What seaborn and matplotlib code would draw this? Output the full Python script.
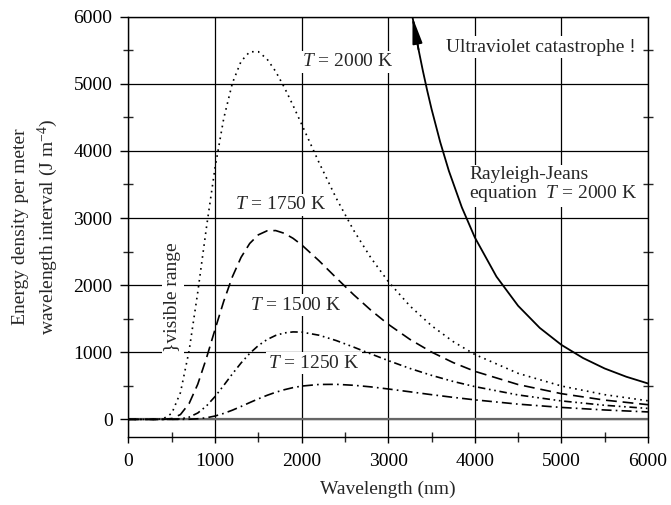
import matplotlib
matplotlib.use("Agg")
import matplotlib.pyplot as plt
from matplotlib.ticker import MultipleLocator
import seaborn as sns
import pandas as pd

# wavelength grid (nm) used for the four blackbody curves
wavelength = [0, 300, 400, 500, 600, 700, 800, 900, 1000, 1100, 1200, 1300, 1400,
              1500, 1600, 1700, 1800, 1900, 2000, 2200, 2400, 2600, 2800, 3000,
              3250, 3500, 3750, 4000, 4500, 5000, 5500, 6000]

# energy density per wavelength interval (J m^-4)
u_2000 = [0, 0, 8, 90, 399, 1022, 1895, 2856, 3753, 4484, 5011, 5334, 5477, 5478,
          5369, 5183, 4946, 4679, 4396, 3828, 3294, 2818, 2406, 2054, 1690, 1396,
          1159, 967, 686, 497, 368, 277]
u_1750 = [0, 0, 1, 12, 72, 236, 524, 912, 1342, 1760, 2125, 2414, 2621, 2750, 2809,
          2813, 2772, 2698, 2600, 2364, 2108, 1858, 1626, 1417, 1192, 1003, 846,
          716, 519, 383, 287, 219]
u_1500 = [0, 0, 0, 1, 7, 33, 95, 199, 341, 506, 678, 840, 983, 1100, 1189, 1251,
          1288, 1303, 1300, 1254, 1174, 1077, 975, 876, 759, 656, 565, 488, 364,
          275, 210, 163]
u_1250 = [0, 0, 0, 0, 0, 2, 9, 24, 50, 89, 137, 192, 250, 306, 358, 404, 442, 473,
          496, 520, 522, 508, 484, 453, 411, 368, 328, 291, 227, 178, 140, 111]

# Rayleigh-Jeans curve at 2000 K
rj_wavelength = [3280, 3350, 3400, 3450, 3500, 3600, 3700, 3850, 4000, 4250, 4500,
                 4750, 5000, 5250, 5500, 5750, 6000]
rj_u = [5995, 5510, 5193, 4899, 4625, 4132, 3703, 3159, 2711, 2127, 1692, 1363,
        1110, 914, 758, 635, 535]

sns.set_style("ticks")
plt.rcParams["font.family"] = ["Liberation Serif", "DejaVu Serif"]
plt.rcParams["mathtext.fontset"] = "custom"
plt.rcParams["mathtext.rm"] = "Liberation Serif"
plt.rcParams["mathtext.it"] = "Liberation Serif:italic"

FS = 14

fig = plt.figure(figsize=(6.71, 5.05), dpi=100)
ax = fig.add_axes([0.1915, 0.135, 0.7742, 0.832])

curves = pd.DataFrame({"wl": wavelength, "T2000": u_2000, "T1750": u_1750,
                       "T1500": u_1500, "T1250": u_1250})
styles = {
    "T2000": (0, (1, 2.6)),
    "T1750": (0, (6.5, 3.5)),
    "T1500": (0, (4.5, 2.2, 1, 2.2, 1, 2.2)),
    "T1250": (0, (6, 2.5, 1, 2.5)),
}
for col, ls in styles.items():
    sns.lineplot(data=curves, x="wl", y=col, ax=ax, color="black", lw=1.2,
                 linestyle=ls, errorbar=None, zorder=3)

rj = pd.DataFrame({"wl": rj_wavelength, "u": rj_u})
sns.lineplot(data=rj, x="wl", y="u", ax=ax, color="black", lw=1.3,
             errorbar=None, zorder=3)
ax.annotate("", xy=(rj_wavelength[0], rj_u[0]), xytext=(rj_wavelength[1], rj_u[1]),
            arrowprops=dict(arrowstyle="-|>,head_length=1.6,head_width=0.3",
                            color="black", lw=1.3, shrinkA=0, shrinkB=0,
                            mutation_scale=10), zorder=4)

ax.set_xlim(0, 6000)
ax.set_ylim(-260, 6000)
ax.xaxis.set_major_locator(MultipleLocator(1000))
ax.yaxis.set_major_locator(MultipleLocator(1000))
ax.xaxis.set_minor_locator(MultipleLocator(500))
ax.yaxis.set_minor_locator(MultipleLocator(500))
ax.grid(True, which="major", color="black", lw=0.9)
ax.axhline(0, color="#666666", lw=1.6, zorder=2)

for s in ax.spines.values():
    s.set_color("black")
    s.set_linewidth(1.0)
ax.tick_params(which="major", direction="out", length=5.5, width=1.0,
               labelsize=FS, colors="black", pad=6)
ax.tick_params(axis="x", which="major", length=4.5, pad=7)
ax.tick_params(which="minor", direction="inout", length=6.5, width=1.0,
               right=True, top=False)

ax.set_xlabel("Wavelength (nm)", fontsize=FS, labelpad=8)
ax.set_ylabel("Energy density per meter\nwavelength interval (J m$^{-4}$)",
              fontsize=FS, labelpad=10, linespacing=1.35)

box = dict(facecolor="white", edgecolor="none", pad=1.5)
ax.text(2004, 5325, "$T$ = 2000 K", fontsize=FS, ha="left", va="center", bbox=box)
ax.text(1230, 3194, "$T$ = 1750 K", fontsize=FS, ha="left", va="center", bbox=box)
ax.text(1403, 1703, "$T$ = 1500 K", fontsize=FS, ha="left", va="center", bbox=box)
ax.text(1611, 839, "$T$ = 1250 K", fontsize=FS, ha="left", va="center", bbox=box)
ax.text(3667, 5548, "Ultraviolet catastrophe !", fontsize=FS, ha="left",
        va="center", bbox=box)
ax.text(3933, 3492, "Rayleigh-Jeans\nequation  $T$ = 2000 K", fontsize=FS,
        ha="left", va="center", linespacing=1.05, bbox=box)
ax.text(514, 1823, "}visible range", fontsize=FS, rotation=90, ha="center",
        va="center", bbox=box)

fig.savefig("out.png", dpi=100)
